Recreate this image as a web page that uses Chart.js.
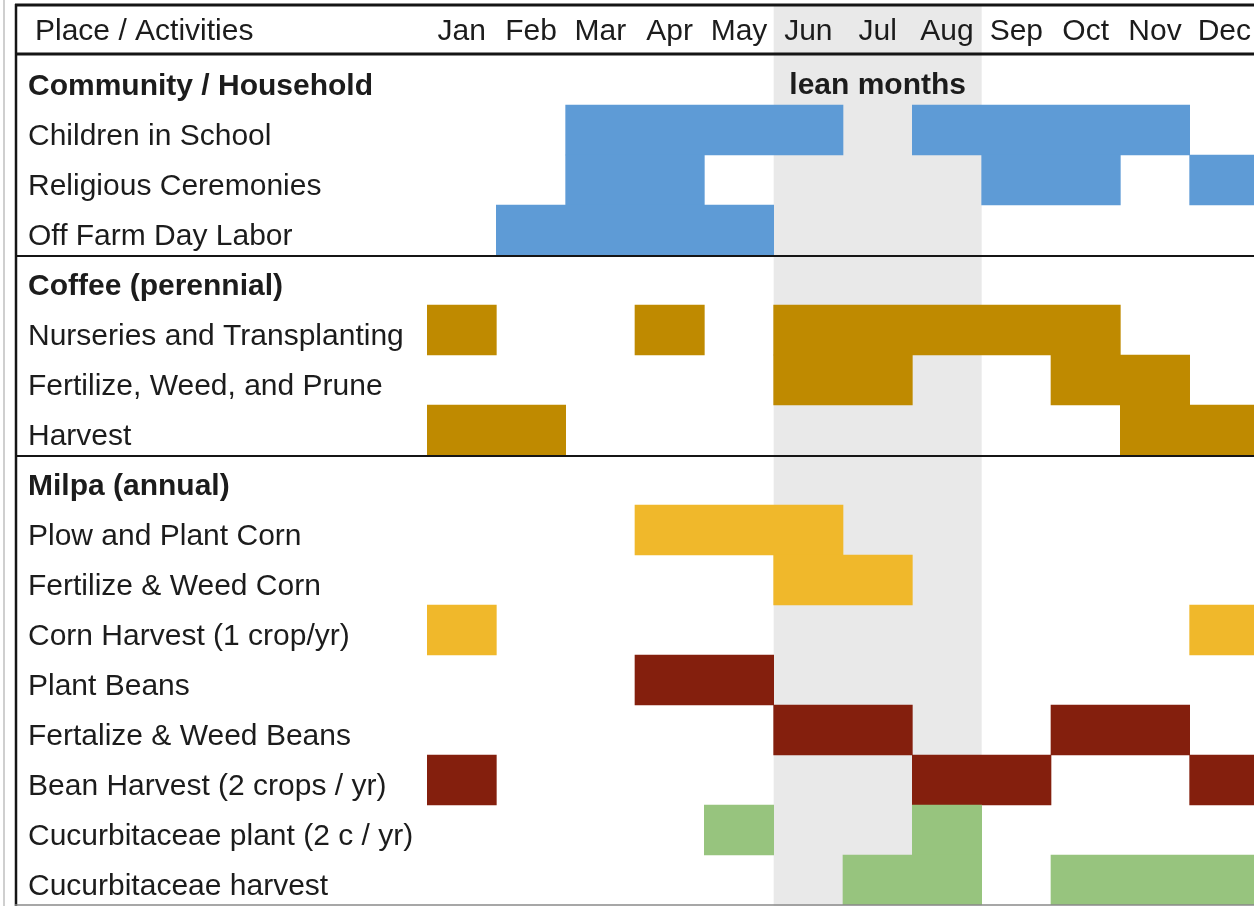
<!DOCTYPE html>
<html><head><meta charset="utf-8">
<script src="https://cdn.jsdelivr.net/npm/chart.js@4/dist/chart.umd.min.js"></script>
<style>html,body{margin:0;padding:0;overflow:hidden;background:#fff}canvas{display:block}</style>
</head><body>
<canvas id="c" width="1259" height="906"></canvas>
<script>
// ---- data ----
const months = ['Jan','Feb','Mar','Apr','May','Jun','Jul','Aug','Sep','Oct','Nov','Dec'];
const activities = [
  'Community / Household',
  'Children in School',
  'Religious Ceremonies',
  'Off Farm Day Labor',
  'Coffee (perennial)',
  'Nurseries and Transplanting',
  'Fertilize, Weed, and Prune',
  'Harvest',
  'Milpa (annual)',
  'Plow and Plant Corn',
  'Fertilize & Weed Corn',
  'Corn Harvest (1 crop/yr)',
  'Plant Beans',
  'Fertalize & Weed Beans',
  'Bean Harvest (2 crops / yr)',
  'Cucurbitaceae plant (2 c / yr)',
  'Cucurbitaceae harvest'
];
const sectionHeaders = ['Community / Household','Coffee (perennial)','Milpa (annual)'];
const leanLabel = 'lean months';
const leanMonths = [5, 8]; // Jun..Aug  (start month index, end exclusive)

// periods: [start month index, end month index (exclusive)]
const childrenInSchool       = [[2,6],[7,11]];
const religiousCeremonies    = [[2,4],[8,10],[11,12]];
const offFarmDayLabor        = [[1,5]];
const nurseriesTransplanting = [[0,1],[3,4],[5,10]];
const fertilizeWeedPrune     = [[5,7],[9,11]];
const coffeeHarvest          = [[0,2],[10,12]];
const plowPlantCorn          = [[3,6]];
const fertilizeWeedCorn      = [[5,7]];
const cornHarvest            = [[0,1],[11,12]];
const plantBeans             = [[3,5]];
const fertilizeWeedBeans     = [[5,7],[9,11]];
const beanHarvest            = [[0,1],[7,9],[11,12]];
const cucurbitPlant          = [[4,5],[7,8]];
const cucurbitHarvest        = [[6,8],[9,12]];

const periods = [
  [], childrenInSchool, religiousCeremonies, offFarmDayLabor,
  [], nurseriesTransplanting, fertilizeWeedPrune, coffeeHarvest,
  [], plowPlantCorn, fertilizeWeedCorn, cornHarvest,
  plantBeans, fertilizeWeedBeans, beanHarvest,
  cucurbitPlant, cucurbitHarvest
];
const rowGroup = ['', 'community','community','community', '', 'coffee','coffee','coffee',
  '', 'corn','corn','corn', 'bean','bean','bean', 'cucurbit','cucurbit'];

// ---- styles ----
const groupColors = { community:'#5e9bd6', coffee:'#bf8a00', corn:'#f0b82b', bean:'#841f0d', cucurbit:'#97c47e' };
const FONT = '"Liberation Sans", Arial, Helvetica, sans-serif';
const TEXT = '#1c1c1c';

const maxSeg = Math.max(...periods.map(p => p.length));
const datasets = [];
for (let k = 0; k < maxSeg; k++) {
  const data = [];
  periods.forEach((p, i) => { if (p[k]) data.push({ x: p[k], y: activities[i] }); });
  datasets.push({
    data,
    grouped: false,
    barPercentage: 1,
    categoryPercentage: 1,
    borderWidth: 0,
    backgroundColor: ctx => groupColors[rowGroup[activities.indexOf(ctx.raw && ctx.raw.y)]] || '#000'
  });
}

const tablePlugin = {
  id: 'table',
  beforeDraw(chart) {
    const { ctx } = chart;
    const x = chart.scales.x;
    ctx.save();
    ctx.fillStyle = '#fff';
    ctx.fillRect(0, 0, chart.width, chart.height);
    // lean months band
    const x0 = x.getPixelForValue(leanMonths[0]);
    const x1 = x.getPixelForValue(leanMonths[1]);
    ctx.fillStyle = '#e9e9e9';
    ctx.fillRect(x0, 6, x1 - x0, chart.height - 6);
    ctx.restore();
  },
  afterDraw(chart) {
    const { ctx } = chart;
    const x = chart.scales.x, y = chart.scales.y;
    const W = chart.width, H = chart.height;
    ctx.save();
    // outer grey margin line
    ctx.strokeStyle = '#cfcfcf'; ctx.lineWidth = 2;
    ctx.beginPath(); ctx.moveTo(4, 0); ctx.lineTo(4, H); ctx.stroke();
    // table borders
    ctx.strokeStyle = '#151515';
    ctx.lineWidth = 2.5;
    ctx.beginPath(); ctx.moveTo(16, 4); ctx.lineTo(16, H); ctx.stroke();
    ctx.lineWidth = 3;
    ctx.beginPath(); ctx.moveTo(15, 5); ctx.lineTo(W, 5); ctx.stroke();
    ctx.beginPath(); ctx.moveTo(15, y.top - 1); ctx.lineTo(W, y.top - 1); ctx.stroke();
    ctx.lineWidth = 2;
    [3.5, 7.5].forEach(v => {
      const py = Math.round(y.getPixelForValue(v)) + 1;
      ctx.beginPath(); ctx.moveTo(15, py); ctx.lineTo(W, py); ctx.stroke();
    });
    ctx.strokeStyle = '#8a8a8a'; ctx.lineWidth = 1.5;
    ctx.beginPath(); ctx.moveTo(15, H - 1); ctx.lineTo(W, H - 1); ctx.stroke();
    // header left text
    ctx.fillStyle = TEXT;
    ctx.font = '30px ' + FONT;
    ctx.textBaseline = 'middle';
    ctx.textAlign = 'left';
    ctx.fillText('Place / Activities', 35, 32);
    // lean months label
    ctx.font = 'bold 30px ' + FONT;
    ctx.textAlign = 'center';
    const cx = (x.getPixelForValue(leanMonths[0]) + x.getPixelForValue(leanMonths[1])) / 2;
    ctx.fillText(leanLabel, cx, y.getPixelForValue(0) + 6);
    ctx.restore();
  }
};

new Chart(document.getElementById('c'), {
  type: 'bar',
  data: { labels: activities, datasets },
  options: {
    indexAxis: 'y',
    responsive: false,
    animation: false,
    devicePixelRatio: 1,
    layout: { padding: { left: 28, top: 0, right: 0, bottom: 1 } },
    plugins: { legend: { display: false }, tooltip: { enabled: false } },
    scales: {
      x: { type: 'linear', min: 0, max: 12, display: false },
      x2: {
        type: 'category', axis: 'x', position: 'top', labels: months, offset: true,
        grid: { display: false, drawTicks: false }, border: { display: false },
        ticks: { autoSkip: false, maxRotation: 0, minRotation: 0, padding: 5, color: TEXT,
                 font: { family: FONT, size: 30 } },
        afterFit: s => { s.height = 55; s.paddingLeft = 0; s.paddingRight = 0; }
      },
      y: {
        type: 'category', offset: true,
        grid: { display: false, drawTicks: false }, border: { display: false },
        ticks: {
          autoSkip: false, crossAlign: 'far', padding: 0, labelOffset: 6.5, color: TEXT,
          font: ctx => ({ family: FONT, size: 30,
                          weight: sectionHeaders.includes(activities[ctx.index]) ? 'bold' : 'normal' })
        },
        afterFit: s => { s.width = 427 - 28; s.paddingTop = 0; s.paddingBottom = 0; }
      }
    }
  },
  plugins: [tablePlugin]
});
</script>
</body></html>
